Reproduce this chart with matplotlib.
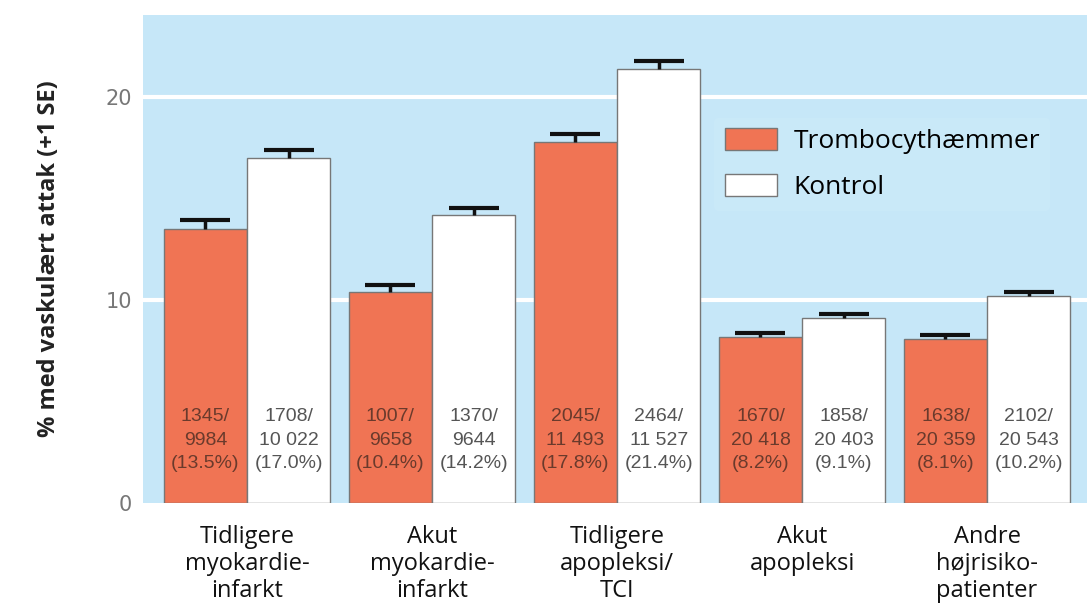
import numpy as np
import matplotlib
matplotlib.use("Agg")
import matplotlib.pyplot as plt
from matplotlib.patches import Patch

# data
categories = ["Tidligere\nmyokardie-\ninfarkt", "Akut\nmyokardie-\ninfarkt",
              "Tidligere\napopleksi/\nTCI", "Akut\napopleksi",
              "Andre\nhøjrisiko-\npatienter"]
treat_pct = [13.5, 10.4, 17.8, 8.2, 8.1]
ctrl_pct = [17.0, 14.2, 21.4, 9.1, 10.2]
treat_se = [0.45, 0.35, 0.4, 0.2, 0.2]
ctrl_se = [0.4, 0.35, 0.4, 0.2, 0.2]
treat_txt = ["1345/\n9984\n(13.5%)", "1007/\n9658\n(10.4%)", "2045/\n11 493\n(17.8%)",
             "1670/\n20 418\n(8.2%)", "1638/\n20 359\n(8.1%)"]
ctrl_txt = ["1708/\n10 022\n(17.0%)", "1370/\n9644\n(14.2%)", "2464/\n11 527\n(21.4%)",
            "1858/\n20 403\n(9.1%)", "2102/\n20 543\n(10.2%)"]
yticks = [0, 10, 20]

ORANGE = "#f07454"
BG = "#c6e7f8"

fig = plt.figure(figsize=(10.87, 6.09), dpi=100)
ax = fig.add_axes([0.1316, 0.174, 0.8684, 0.8013])
ax.set_facecolor(BG)

x = np.arange(len(categories))
w = 0.45
ax.bar(x - w / 2, treat_pct, w, color=ORANGE, edgecolor="#777777", linewidth=1, zorder=3)
ax.bar(x + w / 2, ctrl_pct, w, color="white", edgecolor="#777777", linewidth=1, zorder=3)
for xs, vals, se in [(x - w / 2, treat_pct, treat_se), (x + w / 2, ctrl_pct, ctrl_se)]:
    eb = ax.errorbar(xs, vals, yerr=[np.zeros(5), se], fmt="none",
                     ecolor="#111111", elinewidth=2.5, capsize=18, capthick=3, zorder=4)
    eb[1][0].set_visible(False)  # drop the lower cap

for i in range(len(categories)):
    ax.text(x[i] - w / 2, 3.1, treat_txt[i], ha="center", va="center", fontsize=14,
            family="Liberation Sans", color="#6a3a2c", linespacing=1.5, zorder=5)
    ax.text(x[i] + w / 2, 3.1, ctrl_txt[i], ha="center", va="center", fontsize=14,
            family="Liberation Sans", color="#555555", linespacing=1.5, zorder=5)

ax.set_xlim(-0.562, 4.54)
ax.set_ylim(0, 24.05)
ax.set_yticks(yticks)
ax.set_yticklabels([str(t) for t in yticks], fontsize=15, color="#777777")
ax.set_xticks(x)
ax.set_xticklabels(categories, fontsize=17, family="Open Sans", color="#111111",
                   linespacing=1.15)
ax.tick_params(axis="both", length=0)
ax.tick_params(axis="y", pad=8)
ax.tick_params(axis="x", pad=16)
for sp in ax.spines.values():
    sp.set_visible(False)
for yv in [10, 20]:
    ax.axhline(yv, color="white", linewidth=3, zorder=1)

ax.set_ylabel("% med vaskulært attak (+1 SE)", fontsize=17, fontweight="bold",
              family="Open Sans", color="#222222", labelpad=32)

handles = [Patch(facecolor=ORANGE, edgecolor="#777777"),
           Patch(facecolor="white", edgecolor="#777777")]
leg = ax.legend(handles, ["Trombocythæmmer", "Kontrol"], loc="upper left",
                bbox_to_anchor=(0.605, 0.79),
                prop={"family": "Open Sans", "size": 19},
                handlelength=2.0, handleheight=0.9, labelspacing=0.75,
                handletextpad=0.6, borderaxespad=0)
leg.get_frame().set_facecolor("#cbeaf9")
leg.get_frame().set_edgecolor("none")
leg.set_zorder(6)

fig.savefig("out.png", dpi=100, facecolor="white")
